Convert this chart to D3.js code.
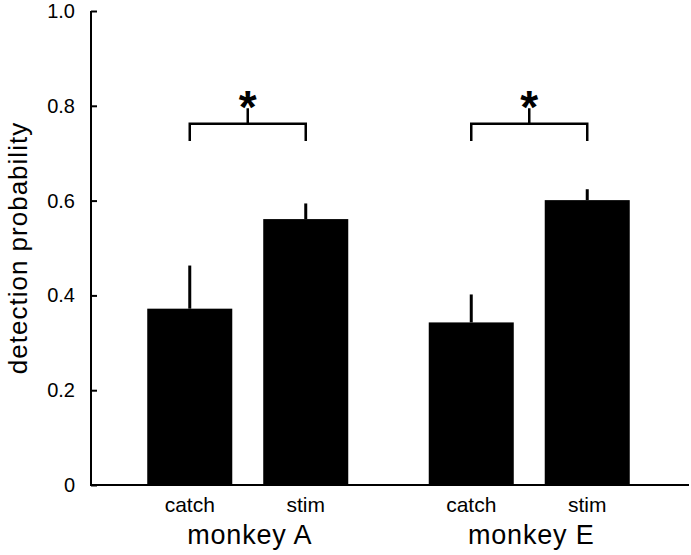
<!DOCTYPE html>
<html>
<head>
<meta charset="utf-8">
<script src="https://cdn.jsdelivr.net/npm/d3@7"></script>
<style>
  body { margin: 0; background: #fff; }
  text { font-family: "Liberation Sans", Arial, sans-serif; fill: #000; }
</style>
</head>
<body>
<svg id="chart" width="691" height="555"></svg>
<script>
const groups = ["monkey A", "monkey E"];
const conditions = ["catch", "stim"];
const means = [0.372, 0.561, 0.343, 0.601];
const errors = [0.091, 0.033, 0.059, 0.023];
const yTicks = [0, 0.2, 0.4, 0.6, 0.8, 1.0];
const bracketLevel = 0.762;
const bracketLeg = 0.726;
const bracketStem = 0.795;

const bars = [];
groups.forEach((g, gi) => conditions.forEach((c, ci) => {
    const i = gi * 2 + ci;
    bars.push({ group: g, cond: c, value: means[i], err: errors[i] });
}));

const svg = d3.select("#chart");

const y = d3.scaleLinear().domain([0, 1]).range([485, 11]);

const xGroup = d3.scaleBand()
    .domain(groups)
    .range([107, 670]);

const xCond = d3.scaleBand()
    .domain(conditions)
    .range([0, xGroup.bandwidth()])
    .paddingInner(0.267)
    .paddingOuter(0.347);

const barX = d => xGroup(d.group) + xCond(d.cond);
const barMid = d => barX(d) + xCond.bandwidth() / 2;

// bars
svg.selectAll("rect.bar").data(bars).enter().append("rect")
    .attr("class", "bar")
    .attr("x", barX)
    .attr("width", xCond.bandwidth())
    .attr("y", d => y(d.value))
    .attr("height", d => y(0) - y(d.value))
    .attr("fill", "#000");

// error bars (upper only)
svg.selectAll("line.err").data(bars).enter().append("line")
    .attr("class", "err")
    .attr("x1", barMid).attr("x2", barMid)
    .attr("y1", d => y(d.value))
    .attr("y2", d => y(d.value + d.err))
    .attr("stroke", "#000")
    .attr("stroke-width", 3);

// y axis
const yAxis = d3.axisLeft(y)
    .tickValues(yTicks)
    .tickSize(-6)
    .tickPadding(16)
    .tickFormat(d => d === 0 ? "0" : d3.format(".1f")(d));

const ya = svg.append("g")
    .attr("transform", "translate(91,0)")
    .call(yAxis);
ya.select(".domain").attr("stroke-width", 2).attr("d", "M0," + y(1) + "V" + y(0));
ya.selectAll(".tick line").attr("stroke-width", 2);
ya.selectAll(".tick text")
    .style("font-size", "20px")
    .style("font-family", "Liberation Sans, Arial, sans-serif");

// x baseline
svg.append("line")
    .attr("x1", 90).attr("x2", 689)
    .attr("y1", y(0)).attr("y2", y(0))
    .attr("stroke", "#000")
    .attr("stroke-width", 2);

// condition labels
svg.selectAll("text.cond").data(bars).enter().append("text")
    .attr("class", "cond")
    .attr("x", barMid)
    .attr("y", 512)
    .attr("text-anchor", "middle")
    .style("font-size", "21px")
    .text(d => d.cond);

// group labels
svg.selectAll("text.grp").data(groups).enter().append("text")
    .attr("class", "grp")
    .attr("x", g => xGroup(g) + xGroup.bandwidth() / 2 + 2)
    .attr("y", 544)
    .attr("text-anchor", "middle")
    .style("font-size", "27px")
    .style("letter-spacing", "0.8px")
    .text(g => g);

// significance brackets
groups.forEach(g => {
    const x1 = xGroup(g) + xCond("catch") + xCond.bandwidth() / 2;
    const x2 = xGroup(g) + xCond("stim") + xCond.bandwidth() / 2;
    const xm = (x1 + x2) / 2;
    svg.append("path")
        .attr("d", `M${x1},${y(bracketLeg)}V${y(bracketLevel)}H${x2}V${y(bracketLeg)}M${xm},${y(bracketLevel)}V${y(bracketStem)}`)
        .attr("fill", "none")
        .attr("stroke", "#000")
        .attr("stroke-width", 2.5);
    svg.append("text")
        .attr("x", xm)
        .attr("y", 123)
        .attr("text-anchor", "middle")
        .style("font-size", "46px")
        .style("font-weight", "bold")
        .text("*");
});

// y label
svg.append("text")
    .attr("transform", `translate(27,${(y(0) + y(1)) / 2}) rotate(-90)`)
    .attr("text-anchor", "middle")
    .style("font-size", "26px")
    .style("letter-spacing", "1px")
    .text("detection probability");
</script>
</body>
</html>
